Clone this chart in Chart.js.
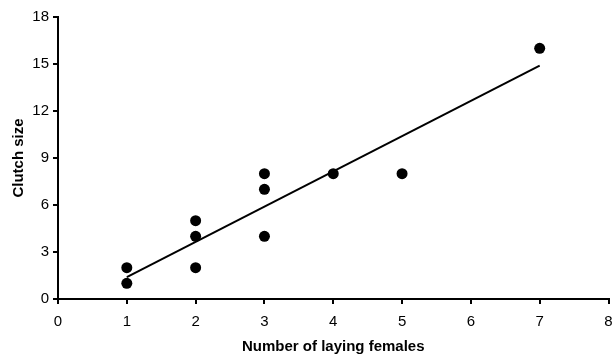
<!DOCTYPE html>
<html>
<head>
<meta charset="utf-8">
<script src="https://cdn.jsdelivr.net/npm/chart.js@4"></script>
<style>
  html, body { margin: 0; padding: 0; background: #fff; }
  #wrap { width: 614px; height: 357px; }
</style>
</head>
<body>
<div id="wrap"><canvas id="c" width="614" height="357"></canvas></div>
<script>
// observed clutches
var femalesX = [1, 1, 2, 2, 2, 3, 3, 3, 4, 5, 7];
var clutchY  = [1, 2, 2, 4, 5, 4, 7, 8, 8, 8, 16];
// fitted trend line
var trendX = [1, 7];
var trendY = [1.4, 14.9];
var xTicks = [0, 1, 2, 3, 4, 5, 6, 7, 8];
var yTicks = [0, 3, 6, 9, 12, 15, 18];

function pairs(xs, ys) {
    return xs.map(function(x, i) { return { x: x, y: ys[i] }; });
}

var font = "'Liberation Sans', Arial, sans-serif";

new Chart(document.getElementById('c'), {
    type: 'scatter',
    data: {
        datasets: [
            {
                label: 'Clutch size',
                data: pairs(femalesX, clutchY),
                pointRadius: 5.5,
                pointHoverRadius: 5.5,
                pointBackgroundColor: '#000',
                pointBorderWidth: 0,
                showLine: false,
            },
            {
                label: 'Trend',
                data: pairs(trendX, trendY),
                showLine: true,
                borderColor: '#000',
                borderWidth: 2,
                pointRadius: 0,
                fill: false,
            },
        ],
    },
    options: {
        responsive: false,
        animation: false,
        layout: { padding: { top: 17, right: 1, left: 0, bottom: 0 } },
        plugins: {
            legend: { display: false },
            tooltip: { enabled: false },
        },
        scales: {
            x: {
                type: 'linear',
                min: 0,
                max: 8,
                afterBuildTicks: function(s) { s.ticks = xTicks.map(function(v) { return { value: v }; }); },
                afterFit: function(s) { s.height = 58; s.paddingRight = 0; s.paddingLeft = 0; },
                border: { display: true, color: '#000', width: 2 },
                grid: { drawOnChartArea: false, color: '#000', tickLength: 5, lineWidth: 2 },
                ticks: { color: '#000', font: { family: font, size: 15 }, padding: 9, maxRotation: 0 },
                title: {
                    display: true,
                    text: 'Number of laying females',
                    color: '#000',
                    font: { family: font, size: 15, weight: 'bold' },
                    padding: { top: 4, bottom: 1 },
                },
            },
            y: {
                type: 'linear',
                min: 0,
                max: 18,
                afterBuildTicks: function(s) { s.ticks = yTicks.map(function(v) { return { value: v }; }); },
                afterFit: function(s) { s.width = 58; },
                border: { display: true, color: '#000', width: 2 },
                grid: { drawOnChartArea: false, color: '#000', tickLength: 5, lineWidth: 2 },
                ticks: { color: '#000', font: { family: font, size: 15 }, padding: 4 },
                title: {
                    display: true,
                    text: 'Clutch size',
                    color: '#000',
                    font: { family: font, size: 15, weight: 'bold' },
                    padding: { top: 10, bottom: 0 },
                },
            },
        },
    },
});
</script>
</body>
</html>
